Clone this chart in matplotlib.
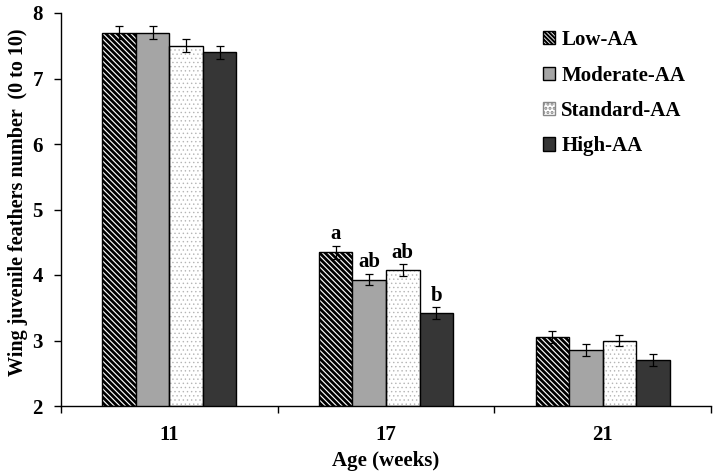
import matplotlib
matplotlib.use("Agg")
import matplotlib.pyplot as plt
import numpy as np
from matplotlib.patches import Patch

ages = ["11", "17", "21"]
series = ["Low-AA", "Moderate-AA", "Standard-AA", "High-AA"]
values = {
    "Low-AA":      [7.70, 4.35, 3.05],
    "Moderate-AA": [7.70, 3.93, 2.85],
    "Standard-AA": [7.50, 4.08, 3.00],
    "High-AA":     [7.40, 3.42, 2.70],
}
errors = {
    "Low-AA":      [0.10, 0.10, 0.09],
    "Moderate-AA": [0.10, 0.09, 0.09],
    "Standard-AA": [0.10, 0.09, 0.09],
    "High-AA":     [0.10, 0.09, 0.09],
}
letters = {
    "Low-AA":      ["", "a", ""],
    "Moderate-AA": ["", "ab", ""],
    "Standard-AA": ["", "ab", ""],
    "High-AA":     ["", "b", ""],
}

plt.rcParams['font.family'] = ['Liberation Serif', 'DejaVu Serif']
plt.rcParams['font.weight'] = 'bold'

fig = plt.figure(figsize=(7.14, 4.71), dpi=100)
ax = fig.add_axes([61/714, 65/471, 650/714, 393/471])

styles = {
    "Low-AA":      dict(facecolor="white", hatch="\\" * 6, hcolor="black", hlw=2.0),
    "Moderate-AA": dict(facecolor="#a5a5a5", hatch=None, hcolor=None, hlw=1.0),
    "Standard-AA": dict(facecolor="white", hatch="....", hcolor="#b5b5b5", hlw=0.5),
    "High-AA":     dict(facecolor="#363636", hatch=None, hcolor=None, hlw=1.0),
}

FS = 15
x = np.arange(len(ages)) + 0.5
bw = 0.155
offsets = (np.arange(len(series)) - 1.5) * bw
bottom = 2.0
for i, s in enumerate(series):
    st = styles[s]
    v = np.array(values[s])
    pos = x + offsets[i]
    plt.rcParams['hatch.linewidth'] = st["hlw"]
    if st["hatch"]:
        ax.bar(pos, v - bottom, bw, bottom=bottom, facecolor=st["facecolor"],
               edgecolor=st["hcolor"], hatch=st["hatch"], linewidth=0, zorder=2)
        ax.bar(pos, v - bottom, bw, bottom=bottom, facecolor="none",
               edgecolor="black", linewidth=1.0, zorder=3)
    else:
        ax.bar(pos, v - bottom, bw, bottom=bottom, facecolor=st["facecolor"],
               edgecolor="black", linewidth=1.0, zorder=3)
    ax.errorbar(pos, v, yerr=errors[s], fmt="none", ecolor="black",
                elinewidth=0.9, capsize=3, capthick=0.9, zorder=4)
    for j, t in enumerate(letters[s]):
        if t:
            ax.text(pos[j], v[j] + errors[s][j] + 0.02, t, ha="center", va="bottom",
                    fontsize=FS, fontweight="bold")

plt.rcParams['hatch.linewidth'] = 1.5
leg_handles = [
    Patch(facecolor="white", edgecolor="black", hatch="\\" * 8),
    Patch(facecolor="#a5a5a5", edgecolor="black"),
    Patch(facecolor="white", edgecolor="#888888", hatch="...."),
    Patch(facecolor="#363636", edgecolor="black"),
]
leg = ax.legend(leg_handles, series, loc="upper left", bbox_to_anchor=(0.712, 1.004),
                frameon=False, handlelength=0.6, handleheight=0.6,
                handletextpad=0.3, labelspacing=0.74,
                prop={'weight': 'bold', 'size': FS})

ax.set_xlim(0, 3)
ax.set_ylim(2, 8)
ax.set_yticks(np.arange(2, 9, 1))
ax.set_xticks(x)
ax.set_xticklabels(ages)
ax.set_xticks([0, 1, 2, 3], minor=True)
ax.tick_params(axis="x", which="major", length=0, labelsize=FS, pad=14)
ax.tick_params(axis="x", which="minor", length=5, width=1, direction="out")
ax.tick_params(axis="y", length=5, width=1, direction="out", labelsize=FS, pad=8)
for lab in ax.get_xticklabels() + ax.get_yticklabels():
    lab.set_fontweight("bold")

for sp in ["top", "right"]:
    ax.spines[sp].set_visible(False)
ax.spines["left"].set_linewidth(1.0)
ax.spines["bottom"].set_linewidth(1.0)

ax.set_ylabel("Wing juvenile feathers number  (0 to 10)", fontsize=14.5, fontweight="bold")
ax.yaxis.set_label_coords(-0.066, 0.519)
ax.yaxis.label.set_va("center")
ax.set_xlabel("Age (weeks)", fontsize=FS, fontweight="bold", labelpad=4)

fig.savefig("out.png", dpi=100)
